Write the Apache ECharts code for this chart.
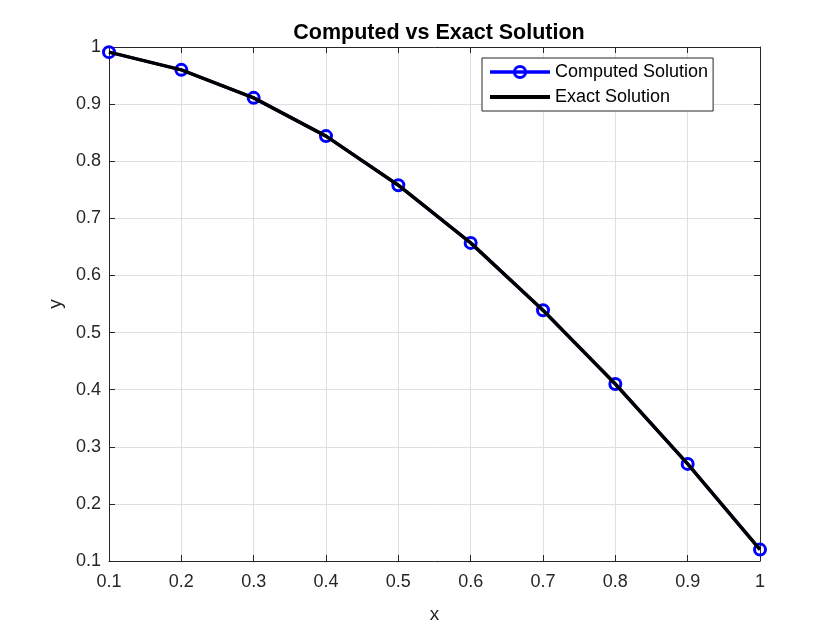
<!doctype html>
<html lang="en">
<head>
    <meta charset="UTF-8">
    <title>Computed vs Exact Solution</title>
    <style>
        html, body { margin: 0; padding: 0; background: #fff; }
        #main { width: 840px; height: 630px; }
    </style>
</head>
<body>
<div id="main"></div>
<script type="text/javascript" src="https://cdn.jsdelivr.net/npm/echarts@6/dist/echarts.min.js"></script>
<script type="text/javascript">
    // data
    var xValues = [0.1, 0.2, 0.3, 0.4, 0.5, 0.6, 0.7, 0.8, 0.9, 1.0];
    var computedY = [0.991, 0.960, 0.911, 0.844, 0.758, 0.657, 0.539, 0.410, 0.270, 0.120];
    var exactY = [0.991, 0.960, 0.911, 0.844, 0.758, 0.657, 0.539, 0.410, 0.270, 0.120];

    function pairs(xs, ys) {
        return xs.map(function (x, i) { return [x, ys[i]]; });
    }

    var font = 'Liberation Sans, Arial, Helvetica, sans-serif';
    var gridLine = { show: true, lineStyle: { color: '#dfdfdf', width: 1 } };
    var tick = { show: true, inside: true, length: 6, lineStyle: { color: '#262626' } };
    var axisLine = { show: true, onZero: false, lineStyle: { color: '#262626', width: 1 } };

    var myChart = echarts.init(document.getElementById('main'));
    var option = {
        animation: false,
        backgroundColor: '#fff',
        title: {
            text: 'Computed vs Exact Solution',
            left: 434, top: 17, textAlign: 'center',
            textStyle: { fontFamily: font, fontSize: 21.5, fontWeight: 'bold', color: '#000' }
        },
        legend: {
            orient: 'vertical',
            left: 482, top: 58,
            itemWidth: 60, itemHeight: 14, itemGap: 7,
            padding: [5, 5, 5, 6],
            borderColor: '#262626', borderWidth: 1,
            backgroundColor: '#fff',
            textStyle: { fontFamily: font, fontSize: 18, color: '#000' },
            data: [
                { name: 'Computed Solution', lineStyle: { width: 3.5 }, itemStyle: { borderWidth: 3 } },
                { name: 'Exact Solution', lineStyle: { width: 4 }, itemStyle: { opacity: 0 } }
            ]
        },
        grid: { left: 109, right: 80, top: 47, bottom: 69 },
        xAxis: [{
            type: 'value', min: 0.1, max: 1, interval: 0.1,
            name: 'x', nameLocation: 'middle', nameGap: 44,
            nameTextStyle: { fontFamily: font, fontSize: 19, color: '#262626' },
            axisLine: axisLine, axisTick: tick, splitLine: gridLine,
            axisLabel: { fontFamily: font, fontSize: 18, color: '#262626', margin: 12 }
        }, {
            type: 'value', position: 'top', min: 0.1, max: 1, interval: 0.1,
            axisLine: axisLine, axisTick: tick, splitLine: { show: false },
            axisLabel: { show: false }
        }],
        yAxis: [{
            type: 'value', min: 0.1, max: 1, interval: 0.1,
            name: 'y', nameLocation: 'middle', nameGap: 44,
            nameTextStyle: { fontFamily: font, fontSize: 19, color: '#262626' },
            axisLine: axisLine, axisTick: tick, splitLine: gridLine,
            axisLabel: { fontFamily: font, fontSize: 18, color: '#262626', margin: 8 }
        }, {
            type: 'value', position: 'right', min: 0.1, max: 1, interval: 0.1,
            axisLine: axisLine, axisTick: tick, splitLine: { show: false },
            axisLabel: { show: false }
        }],
        series: [{
            name: 'Computed Solution',
            type: 'line',
            data: pairs(xValues, computedY),
            symbol: 'circle', symbolSize: 11,
            lineStyle: { color: '#0000ff', width: 3 },
            itemStyle: { color: 'rgba(0,0,0,0)', borderColor: '#0000ff', borderWidth: 3 },
            z: 2
        }, {
            name: 'Exact Solution',
            type: 'line',
            data: pairs(xValues, exactY),
            showSymbol: false, symbol: 'none',
            lineStyle: { color: '#000', width: 3.5 },
            itemStyle: { color: '#000' },
            z: 3
        }]
    };
    myChart.setOption(option);
</script>
</body>
</html>
